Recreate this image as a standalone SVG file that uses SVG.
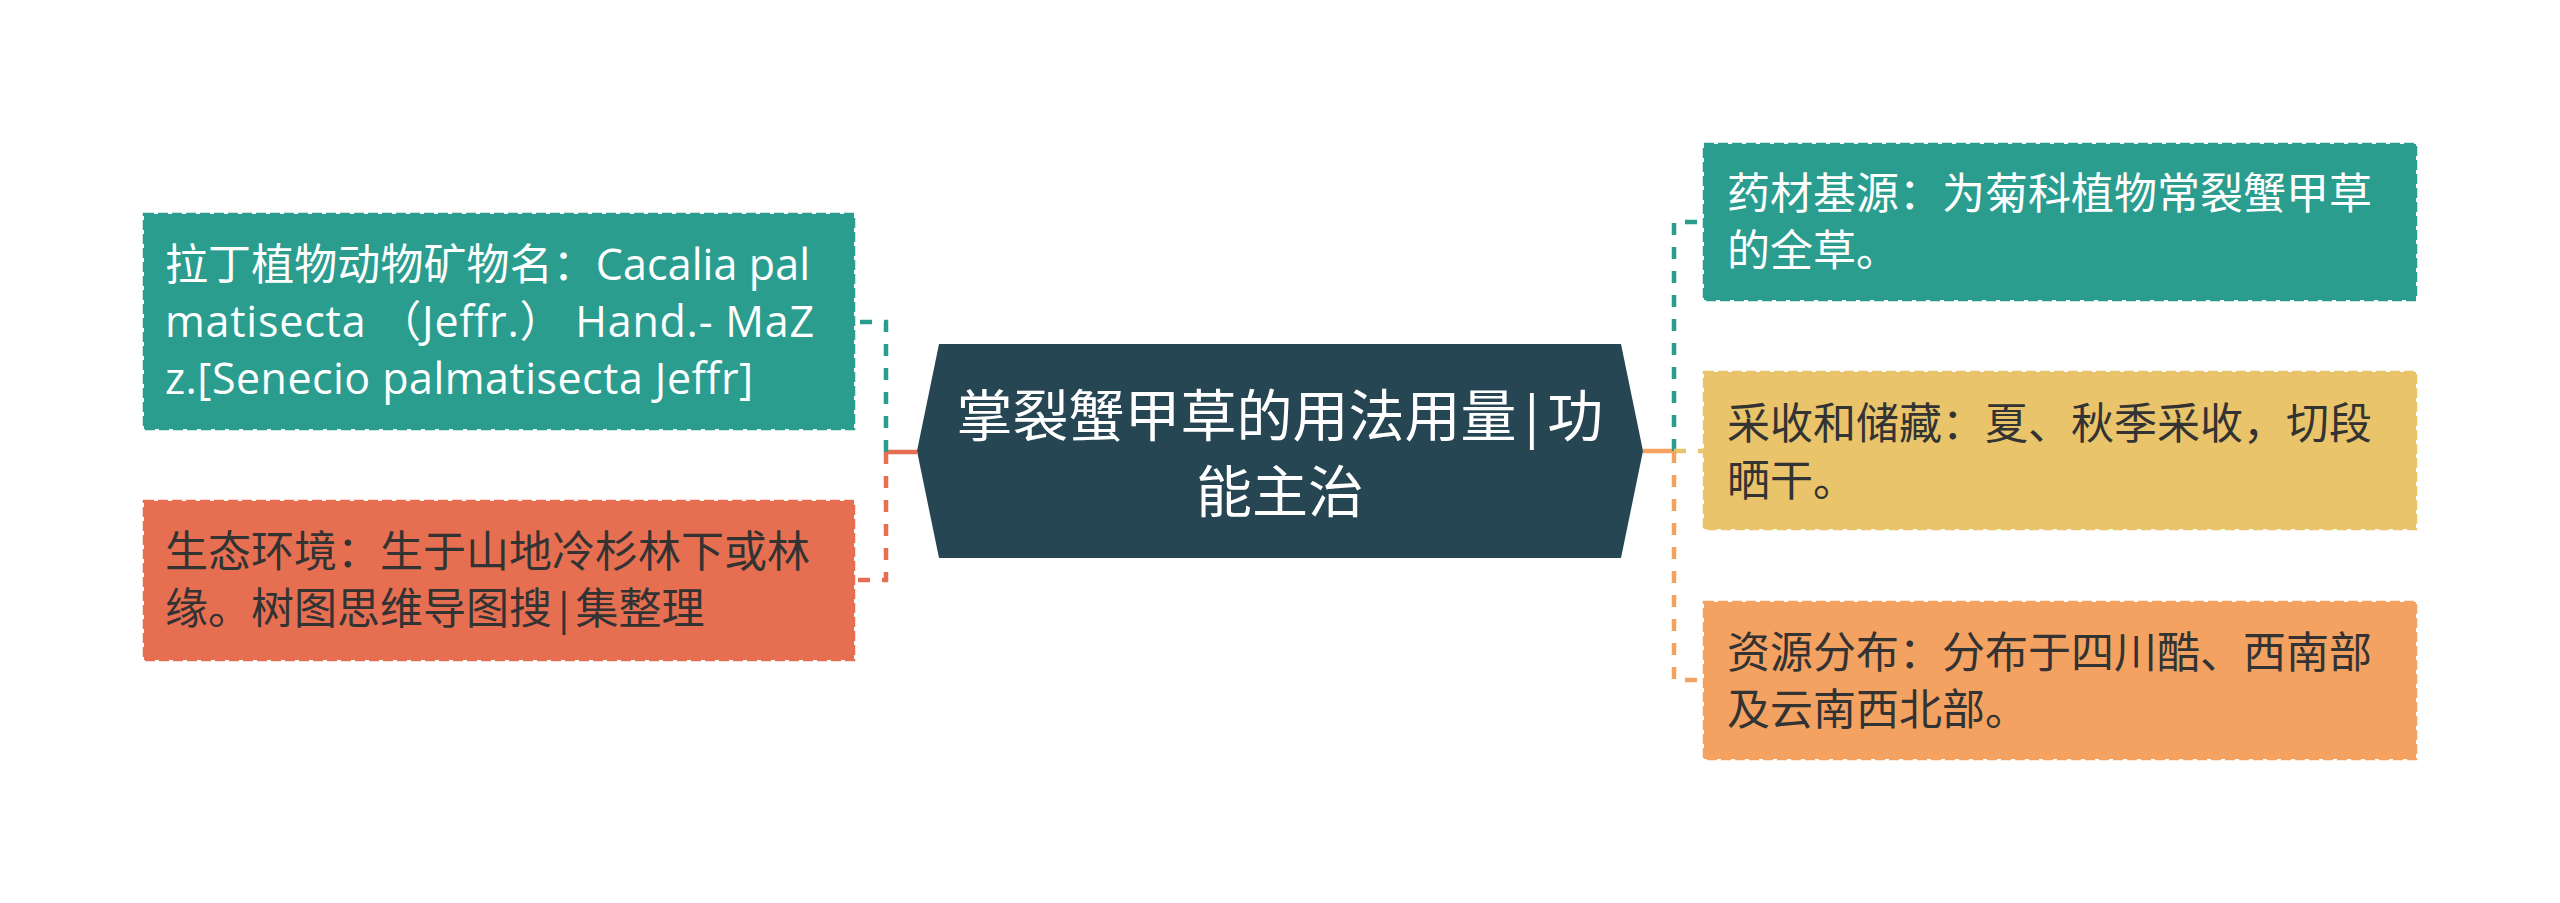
<svg xmlns="http://www.w3.org/2000/svg" width="2560" height="903" viewBox="0 0 2560 903">
<style>
text{font-family:"Open Sans","Noto Sans CJK SC",sans-serif;font-size:43px}
.w{fill:#ffffff}
.d{fill:#333333}
.box{stroke-width:2.5;stroke-dasharray:10 4}
.conn{fill:none;stroke-width:4.5}
.dash{stroke-dasharray:12 12}
.ctr{font-size:56px;fill:#ffffff;text-anchor:middle}
</style>
<rect width="2560" height="903" fill="#ffffff"/>
<g id="connectors">
  <path class="conn" stroke="#E76F51" d="M917,452 H886"/>
  <path class="conn dash" stroke="#2A9D8F" d="M886,452 V322 H855"/>
  <path class="conn dash" stroke="#E76F51" d="M886,452 V580 H855"/>
  <path class="conn" stroke="#F4A261" d="M1643,451 H1674"/>
  <path class="conn dash" stroke="#2A9D8F" d="M1674,451 V222 H1704"/>
  <path class="conn dash" stroke="#E9C46A" d="M1674,451 H1704"/>
  <path class="conn dash" stroke="#F4A261" d="M1674,451 V680 H1704"/>
</g>
<g id="center">
  <polygon points="939,344 1621,344 1643,451 1621,558 939,558 917,451" fill="#264653"/>
  <text class="ctr" x="1280" y="436">掌裂蟹甲草的用法用量|功</text>
  <text class="ctr" x="1280" y="512">能主治</text>
</g>
<g id="node-latin">
  <rect class="box" x="144" y="214" width="710" height="215" fill="#2A9D8F" stroke="#2A9D8F"/>
  <text class="w" x="165" y="280" textLength="645" lengthAdjust="spacing">拉丁植物动物矿物名：Cacalia pal</text>
  <text class="w" x="165" y="337" textLength="649" lengthAdjust="spacing">matisecta （Jeffr.） Hand.- MaZ</text>
  <text class="w" x="165" y="394" textLength="588" lengthAdjust="spacing">z.[Senecio palmatisecta Jeffr]</text>
</g>
<g id="node-ecology">
  <rect class="box" x="144" y="501" width="710" height="159" fill="#E76F51" stroke="#E76F51"/>
  <text class="d" x="165" y="567">生态环境：生于山地冷杉林下或林</text>
  <text class="d" x="165" y="624">缘。树图思维导图搜|集整理</text>
</g>
<g id="node-source">
  <rect class="box" x="1704" y="144" width="712" height="156" fill="#2A9D8F" stroke="#2A9D8F"/>
  <text class="w" x="1727" y="209">药材基源：为菊科植物常裂蟹甲草</text>
  <text class="w" x="1727" y="266">的全草。</text>
</g>
<g id="node-harvest">
  <rect class="box" x="1704" y="372" width="712" height="157" fill="#E9C46A" stroke="#E9C46A"/>
  <text class="d" x="1727" y="439">采收和储藏：夏、秋季采收，切段</text>
  <text class="d" x="1727" y="496">晒干。</text>
</g>
<g id="node-distribution">
  <rect class="box" x="1704" y="602" width="712" height="157" fill="#F4A261" stroke="#F4A261"/>
  <text class="d" x="1727" y="668">资源分布：分布于四川酷、西南部</text>
  <text class="d" x="1727" y="725">及云南西北部。</text>
</g>
</svg>
